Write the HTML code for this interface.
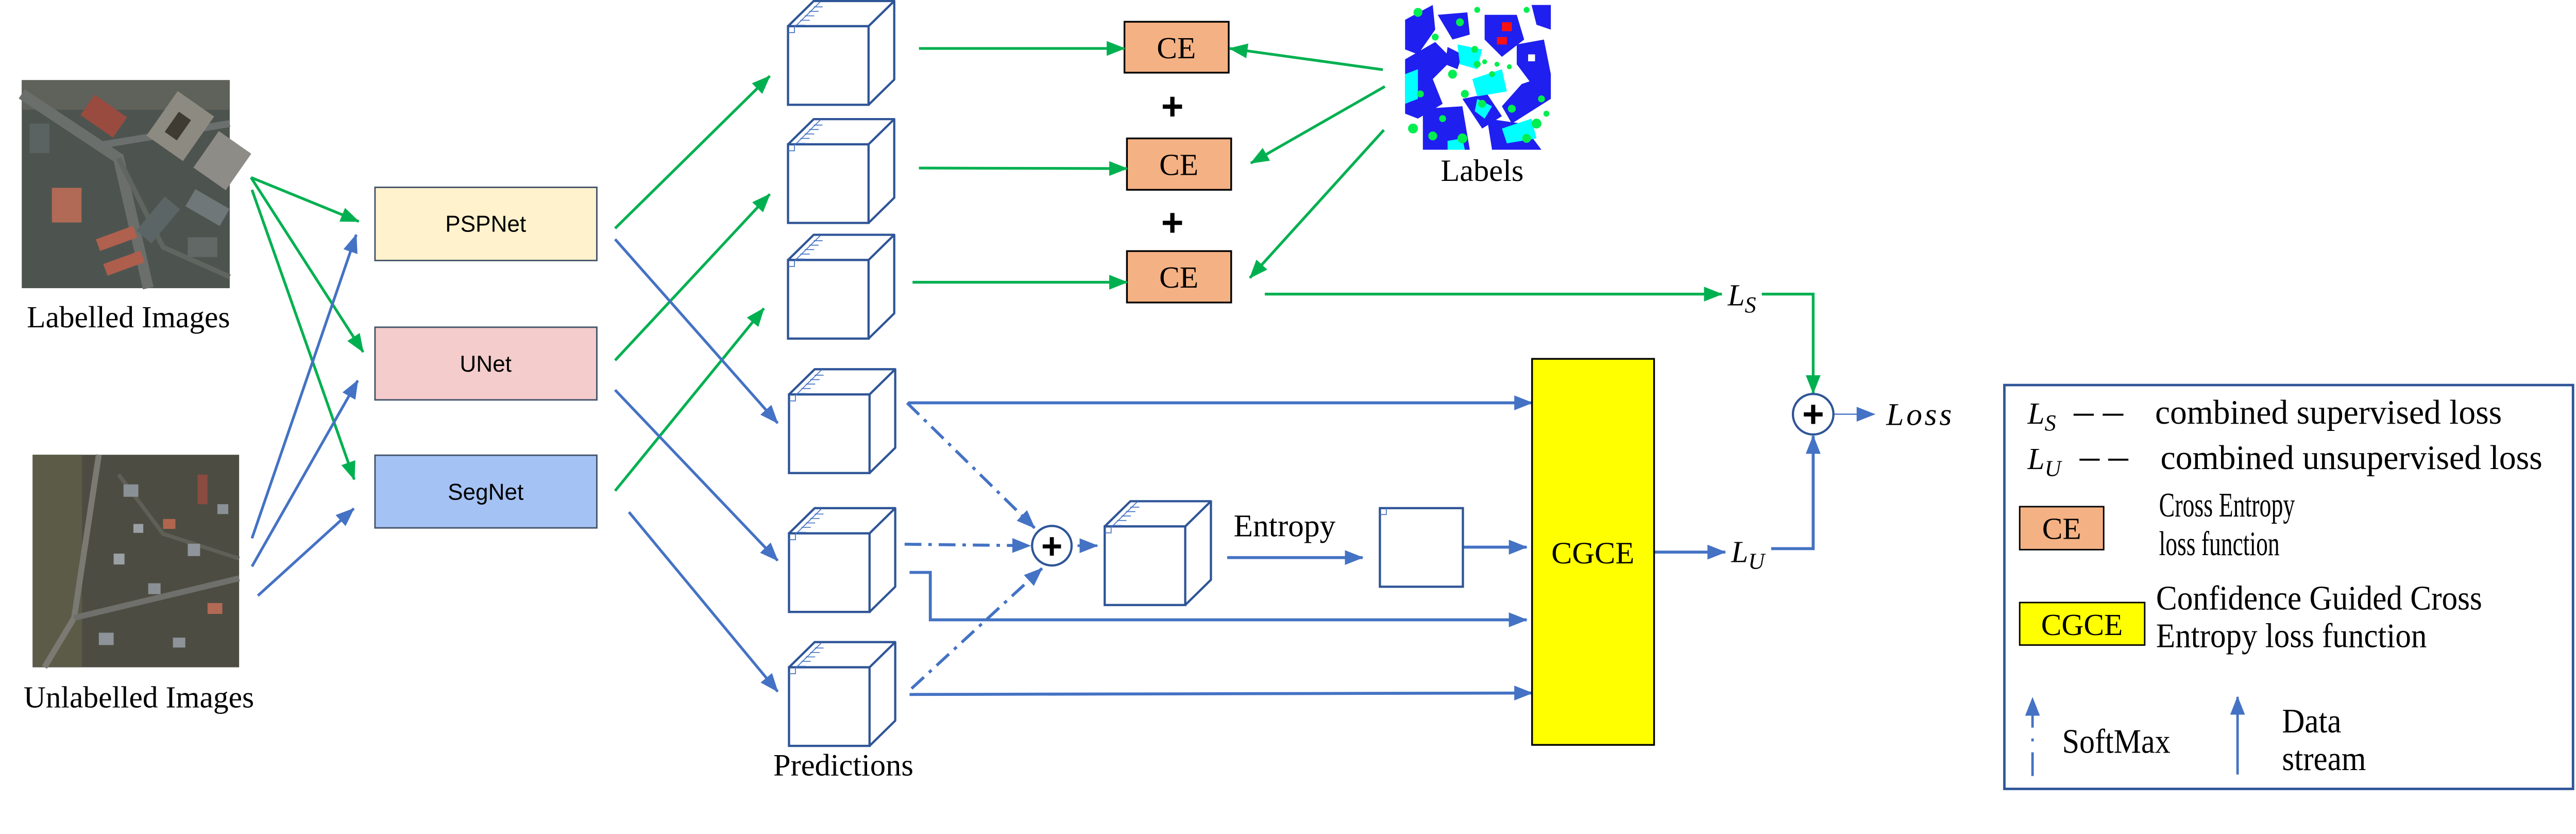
<!DOCTYPE html>
<html><head><meta charset="utf-8"><style>
html,body{margin:0;padding:0;background:#fff;overflow:hidden;}
svg{display:block;width:100%;height:auto;}
text{font-family:"Liberation Serif",serif;}
.sans{font-family:"Liberation Sans",sans-serif;}
</style></head><body>
<svg viewBox="0 0 5214 1618" preserveAspectRatio="xMidYMid meet" xmlns="http://www.w3.org/2000/svg">
<defs>
<marker id="ag" markerUnits="userSpaceOnUse" markerWidth="40" markerHeight="34" refX="36" refY="17" orient="auto"><path d="M0,2 L38,17 L0,32 Z" fill="#00B050"/></marker>
<marker id="ab" markerUnits="userSpaceOnUse" markerWidth="40" markerHeight="34" refX="36" refY="17" orient="auto"><path d="M0,2 L38,17 L0,32 Z" fill="#4472C4"/></marker>
<g id="cube">
<path d="M0,0 L52,-51 L215,-51 L163,0 Z M163,0 L215,-51 L215,108 L163,159" fill="#fff" stroke="#2F5597" stroke-width="4.5" stroke-linejoin="round"/>
<rect x="0" y="0" width="163" height="159" fill="#fff" stroke="#2F5597" stroke-width="4.5"/>
<path d="M13,2 L66,-50 M15,-2 L34,-2 M25,-12 L44,-12 M34,-21 L53,-21 M43,-30 L62,-30 M52,-39 L70,-39 M0,13 L13,13 L13,0" stroke="#4472C4" stroke-width="1.8" fill="none"/>
</g>
</defs>
<rect x="0" y="0" width="5214" height="1618" fill="#fff"/>

<!-- Labelled image -->
<g>
<rect x="44" y="162" width="421" height="421" fill="#4d5450"/>
<rect x="44" y="162" width="421" height="60" fill="#5f625a"/>
<path d="M44,190 L240,320 L300,583" stroke="#6b6f6b" stroke-width="22" fill="none"/>
<path d="M195,295 L465,250" stroke="#6b706e" stroke-width="14" fill="none"/>
<path d="M240,320 L330,500 L465,560" stroke="#60655f" stroke-width="10" fill="none"/>
<rect x="170" y="210" width="80" height="50" fill="#9a4b3f" transform="rotate(35 210 235)"/>
<rect x="320" y="200" width="90" height="110" fill="#8d8a82" transform="rotate(35 365 255)"/>
<rect x="345" y="230" width="30" height="50" fill="#3f3a32" transform="rotate(35 360 255)"/>
<rect x="410" y="280" width="80" height="90" fill="#8e8c86" transform="rotate(35 450 325)"/>
<rect x="105" y="380" width="60" height="70" fill="#b06a55"/>
<rect x="195" y="470" width="80" height="25" fill="#b0604e" transform="rotate(-20 235 480)"/>
<rect x="210" y="520" width="80" height="25" fill="#ae5e4c" transform="rotate(-20 250 530)"/>
<rect x="300" y="400" width="40" height="90" fill="#5c6566" transform="rotate(40 320 445)"/>
<rect x="380" y="400" width="80" height="40" fill="#6f7778" transform="rotate(30 420 420)"/>
<rect x="60" y="250" width="40" height="60" fill="#5a6262"/>
<rect x="380" y="480" width="60" height="40" fill="#616866"/>
</g>
<text x="260" y="662" font-size="62" text-anchor="middle">Labelled Images</text>

<!-- Unlabelled image -->
<g>
<rect x="66" y="920" width="418" height="430" fill="#4c4c42"/>
<rect x="66" y="920" width="100" height="430" fill="#5c5b48"/>
<path d="M200,920 L150,1250 L90,1350" stroke="#7a7a72" stroke-width="12" fill="none"/>
<path d="M150,1250 L484,1170" stroke="#6f706c" stroke-width="12" fill="none"/>
<path d="M240,960 L330,1080 L484,1130" stroke="#5f5f58" stroke-width="8" fill="none"/>
<rect x="250" y="980" width="30" height="25" fill="#8a9196"/>
<rect x="330" y="1050" width="25" height="20" fill="#b0664e"/>
<rect x="380" y="1100" width="25" height="25" fill="#8f959a"/>
<rect x="230" y="1120" width="22" height="22" fill="#9aa0a4"/>
<rect x="300" y="1180" width="25" height="22" fill="#8b9094"/>
<rect x="420" y="1220" width="30" height="22" fill="#b26a55"/>
<rect x="200" y="1280" width="30" height="25" fill="#8d9398"/>
<rect x="400" y="960" width="20" height="60" fill="#8a4b40"/>
<rect x="270" y="1060" width="20" height="18" fill="#9aa0a4"/>
<rect x="440" y="1020" width="22" height="20" fill="#8a9196"/>
<rect x="350" y="1290" width="25" height="20" fill="#8d9398"/>
</g>
<text x="281" y="1431" font-size="62" text-anchor="middle">Unlabelled Images</text>

<!-- Networks -->
<rect x="759" y="379" width="449" height="148" fill="#FFF2CC" stroke="#44546A" stroke-width="3"/>
<text x="983" y="469" font-size="46" text-anchor="middle" class="sans">PSPNet</text>
<rect x="759" y="662" width="449" height="147" fill="#F4CCCC" stroke="#44546A" stroke-width="3"/>
<text x="983" y="752" font-size="46" text-anchor="middle" class="sans">UNet</text>
<rect x="759" y="921" width="449" height="147" fill="#A4C2F4" stroke="#44546A" stroke-width="3"/>
<text x="983" y="1011" font-size="46" text-anchor="middle" class="sans">SegNet</text>

<!-- input arrows -->
<g stroke-width="5.5" fill="none">
<line x1="508" y1="359" x2="726" y2="448" stroke="#00B050" marker-end="url(#ag)"/>
<line x1="508" y1="359" x2="735" y2="712" stroke="#00B050" marker-end="url(#ag)"/>
<line x1="510" y1="384" x2="717" y2="970" stroke="#00B050" marker-end="url(#ag)"/>
<line x1="510" y1="1089" x2="721" y2="475" stroke="#4472C4" marker-end="url(#ab)"/>
<line x1="510" y1="1146" x2="724" y2="770" stroke="#4472C4" marker-end="url(#ab)"/>
<line x1="522" y1="1205" x2="716" y2="1029" stroke="#4472C4" marker-end="url(#ab)"/>
<line x1="1245" y1="462" x2="1558" y2="154" stroke="#00B050" marker-end="url(#ag)"/>
<line x1="1245" y1="729" x2="1558" y2="393" stroke="#00B050" marker-end="url(#ag)"/>
<line x1="1245" y1="993" x2="1546" y2="624" stroke="#00B050" marker-end="url(#ag)"/>
<line x1="1245" y1="484" x2="1574" y2="856" stroke="#4472C4" marker-end="url(#ab)"/>
<line x1="1245" y1="789" x2="1574" y2="1134" stroke="#4472C4" marker-end="url(#ab)"/>
<line x1="1273" y1="1036" x2="1574" y2="1399" stroke="#4472C4" marker-end="url(#ab)"/>
</g>

<!-- cubes -->
<use href="#cube" x="1595" y="53"/>
<use href="#cube" x="1595" y="292"/>
<use href="#cube" x="1595" y="526"/>
<use href="#cube" x="1597" y="798"/>
<use href="#cube" x="1597" y="1079"/>
<use href="#cube" x="1597" y="1350"/>
<use href="#cube" x="2236" y="1065"/>
<text x="1707" y="1569" font-size="63" text-anchor="middle">Predictions</text>

<!-- CE boxes -->
<rect x="2276" y="44" width="211" height="103" fill="#F4B183" stroke="#000" stroke-width="3.5"/>
<text x="2381" y="118" font-size="62" text-anchor="middle">CE</text>
<rect x="2281" y="280" width="211" height="104" fill="#F4B183" stroke="#000" stroke-width="3.5"/>
<text x="2386" y="354" font-size="62" text-anchor="middle">CE</text>
<rect x="2281" y="508" width="211" height="104" fill="#F4B183" stroke="#000" stroke-width="3.5"/>
<text x="2386" y="582" font-size="62" text-anchor="middle">CE</text>
<text x="2373" y="242" font-size="78" font-weight="bold" text-anchor="middle" class="sans">+</text>
<text x="2373" y="477" font-size="78" font-weight="bold" text-anchor="middle" class="sans">+</text>

<!-- Labels map -->
<g>
<rect x="2844" y="8" width="295" height="295" fill="#fff"/>
<path d="M2844,40 L2900,10 L2905,60 L2870,110 L2844,100Z" fill="#1f1fef"/>
<path d="M2844,120 L2905,85 L2940,120 L2900,160 L2920,210 L2870,240 L2844,230Z" fill="#1f1fef"/>
<path d="M2910,30 L2970,25 L2975,70 L2940,80Z" fill="#1f1fef"/>
<path d="M3005,30 L3070,30 L3085,80 L3040,115 L3005,80Z" fill="#1f1fef"/>
<rect x="3040" y="45" width="20" height="18" fill="#ff1010"/>
<rect x="3030" y="75" width="20" height="15" fill="#ff1010"/>
<path d="M3070,90 L3125,80 L3139,150 L3100,170 L3070,130Z" fill="#1f1fef"/>
<rect x="3093" y="110" width="14" height="14" fill="#fff"/>
<path d="M3080,170 L3139,150 L3139,200 L3060,250 L3040,215Z" fill="#1f1fef"/>
<path d="M2960,200 L3010,190 L3040,235 L3000,260 Z" fill="#1f1fef"/>
<path d="M2880,220 L2960,215 L2975,303 L2880,303Z" fill="#1f1fef"/>
<path d="M3010,240 L3080,250 L3120,303 L3020,303Z" fill="#1f1fef"/>
<path d="M3100,10 L3139,10 L3139,60 L3110,50Z" fill="#1f1fef"/>
<path d="M2930,95 L2960,110 L2950,140 L2925,130Z" fill="#1f1fef"/>
<path d="M2980,160 L3040,140 L3050,185 L2990,195Z" fill="#00ffff"/>
<path d="M2950,90 L3000,100 L2990,140 L2955,130Z" fill="#00ffff"/>
<path d="M2844,150 L2870,140 L2870,200 L2844,210Z" fill="#00ffff"/>
<path d="M3040,260 L3100,240 L3110,280 L3050,290Z" fill="#00ffff"/>
<path d="M2990,200 L3020,215 L3005,240 L2985,225Z" fill="#00ffff"/>
<path d="M2930,285 L2960,280 L2965,303 L2930,303Z" fill="#00ffff"/>
<g fill="#00ee50">
<circle cx="2870" cy="25" r="9"/><circle cx="2905" cy="75" r="7"/><circle cx="2955" cy="45" r="8"/>
<circle cx="2940" cy="150" r="9"/><circle cx="2965" cy="190" r="8"/><circle cx="2990" cy="130" r="7"/>
<circle cx="2860" cy="260" r="10"/><circle cx="2900" cy="275" r="9"/><circle cx="2960" cy="280" r="10"/>
<circle cx="3000" cy="210" r="8"/><circle cx="3060" cy="220" r="8"/><circle cx="3110" cy="250" r="10"/>
<circle cx="2985" cy="100" r="7"/><circle cx="3020" cy="150" r="6"/><circle cx="3120" cy="200" r="7"/>
<circle cx="3090" cy="280" r="9"/><circle cx="2920" cy="240" r="7"/><circle cx="2875" cy="190" r="7"/>
<circle cx="3005" cy="125" r="5"/><circle cx="3030" cy="130" r="5"/><circle cx="3055" cy="135" r="5"/>
<circle cx="2990" cy="20" r="6"/><circle cx="3090" cy="20" r="6"/><circle cx="3130" cy="230" r="6"/>
</g>
</g>
<text x="3000" y="366" font-size="63" text-anchor="middle">Labels</text>

<!-- green CE arrows -->
<g stroke="#00B050" stroke-width="5.5" fill="none">
<line x1="1860" y1="98" x2="2276" y2="98" marker-end="url(#ag)"/>
<line x1="1860" y1="340" x2="2281" y2="341" marker-end="url(#ag)"/>
<line x1="1847" y1="571" x2="2281" y2="571" marker-end="url(#ag)"/>
<line x1="2799" y1="141" x2="2489" y2="98" marker-end="url(#ag)"/>
<line x1="2803" y1="175" x2="2532" y2="330" marker-end="url(#ag)"/>
<line x1="2801" y1="263" x2="2530" y2="562" marker-end="url(#ag)"/>
<line x1="2560" y1="595" x2="3485" y2="595" marker-end="url(#ag)"/>
<polyline points="3566,595 3670,595 3670,795" marker-end="url(#ag)"/>
</g>

<!-- blue flows -->
<g stroke="#4472C4" stroke-width="6" fill="none">
<line x1="1838" y1="815" x2="3101" y2="815" marker-end="url(#ab)"/>
<polyline points="1841,1158 1883,1158 1883,1254 3090,1254" marker-end="url(#ab)"/>
<line x1="1841" y1="1405" x2="3101" y2="1402" marker-end="url(#ab)"/>
<line x1="2484" y1="1128" x2="2758" y2="1128" marker-end="url(#ab)"/>
<line x1="2961" y1="1107" x2="3090" y2="1107" marker-end="url(#ab)"/>
<line x1="3348" y1="1117" x2="3492" y2="1117" marker-end="url(#ab)"/>
<polyline points="3585,1110 3670,1110 3670,882" marker-end="url(#ab)"/>
<line x1="2181" y1="1104" x2="2221" y2="1104" stroke-width="5" marker-end="url(#ab)"/>
<g stroke-dasharray="34,14,7,14">
<line x1="1836" y1="815" x2="2094" y2="1068" marker-end="url(#ab)"/>
<line x1="1831" y1="1101" x2="2085" y2="1104" marker-end="url(#ab)"/>
<line x1="1845" y1="1393" x2="2109" y2="1150" marker-end="url(#ab)"/>
</g>
<line x1="3713" y1="838" x2="3794" y2="838" stroke-width="2.5" marker-end="url(#ab)"/>
</g>

<!-- sum circles -->
<circle cx="2129" cy="1104" r="40" fill="#fff" stroke="#2F5597" stroke-width="4.5"/>
<text x="2129" y="1130" font-size="74" font-weight="bold" text-anchor="middle" class="sans">+</text>
<circle cx="3670" cy="838" r="41" fill="#fff" stroke="#2F5597" stroke-width="4.5"/>
<text x="3670" y="864" font-size="76" font-weight="bold" text-anchor="middle" class="sans">+</text>

<text x="2497" y="1085" font-size="64">Entropy</text>
<rect x="2793" y="1028" width="168" height="159" fill="#fff" stroke="#2F5597" stroke-width="4.5"/>
<path d="M2793,1041 L2806,1041 L2806,1028" stroke="#4472C4" stroke-width="1.8" fill="none"/>

<!-- CGCE -->
<rect x="3101" y="726" width="247" height="781" fill="#FFFF00" stroke="#000" stroke-width="3.5"/>
<text x="3224" y="1140" font-size="63" text-anchor="middle">CGCE</text>

<text x="3497" y="618" font-size="62" font-style="italic">L<tspan font-size="46" dy="14">S</tspan></text>
<text x="3504" y="1137" font-size="62" font-style="italic">L<tspan font-size="46" dy="14">U</tspan></text>
<text x="3818" y="860" font-size="64" font-style="italic" letter-spacing="5">Loss</text>

<!-- Legend -->
<rect x="4057" y="779" width="1151" height="817" fill="#fff" stroke="#2F5597" stroke-width="5"/>
<text x="4104" y="857" font-size="62" font-style="italic">L<tspan font-size="46" dy="14">S</tspan></text>
<line x1="4197" y1="839" x2="4238" y2="839" stroke="#000" stroke-width="4"/>
<line x1="4256" y1="839" x2="4298" y2="839" stroke="#000" stroke-width="4"/>
<text x="4362" y="857" font-size="70" textLength="702" lengthAdjust="spacingAndGlyphs">combined supervised loss</text>
<text x="4104" y="949" font-size="62" font-style="italic">L<tspan font-size="46" dy="14">U</tspan></text>
<line x1="4209" y1="930" x2="4250" y2="930" stroke="#000" stroke-width="4"/>
<line x1="4267" y1="930" x2="4308" y2="930" stroke="#000" stroke-width="4"/>
<text x="4373" y="949" font-size="70" textLength="773" lengthAdjust="spacingAndGlyphs">combined unsupervised loss</text>
<rect x="4088" y="1025" width="170" height="87" fill="#F4B183" stroke="#000" stroke-width="3"/>
<text x="4173" y="1090" font-size="62" text-anchor="middle">CE</text>
<text x="4370" y="1045" font-size="70" textLength="275" lengthAdjust="spacingAndGlyphs">Cross Entropy</text>
<text x="4370" y="1123" font-size="70" textLength="244" lengthAdjust="spacingAndGlyphs">loss function</text>
<rect x="4088" y="1219" width="253" height="86" fill="#FFFF00" stroke="#000" stroke-width="3"/>
<text x="4214" y="1285" font-size="62" text-anchor="middle">CGCE</text>
<text x="4364" y="1233" font-size="70" textLength="660" lengthAdjust="spacingAndGlyphs">Confidence Guided Cross</text>
<text x="4364" y="1309" font-size="70" textLength="548" lengthAdjust="spacingAndGlyphs">Entropy loss function</text>
<line x1="4114" y1="1570" x2="4114" y2="1412" stroke="#4472C4" stroke-width="5" stroke-dasharray="48,22,6,22" marker-end="url(#ab)"/>
<text x="4174" y="1523" font-size="70" textLength="219" lengthAdjust="spacingAndGlyphs">SoftMax</text>
<line x1="4529" y1="1567" x2="4529" y2="1410" stroke="#4472C4" stroke-width="5" marker-end="url(#ab)"/>
<text x="4619" y="1482" font-size="70" textLength="120" lengthAdjust="spacingAndGlyphs">Data</text>
<text x="4619" y="1558" font-size="70" textLength="170" lengthAdjust="spacingAndGlyphs">stream</text>
</svg>
</body></html>
